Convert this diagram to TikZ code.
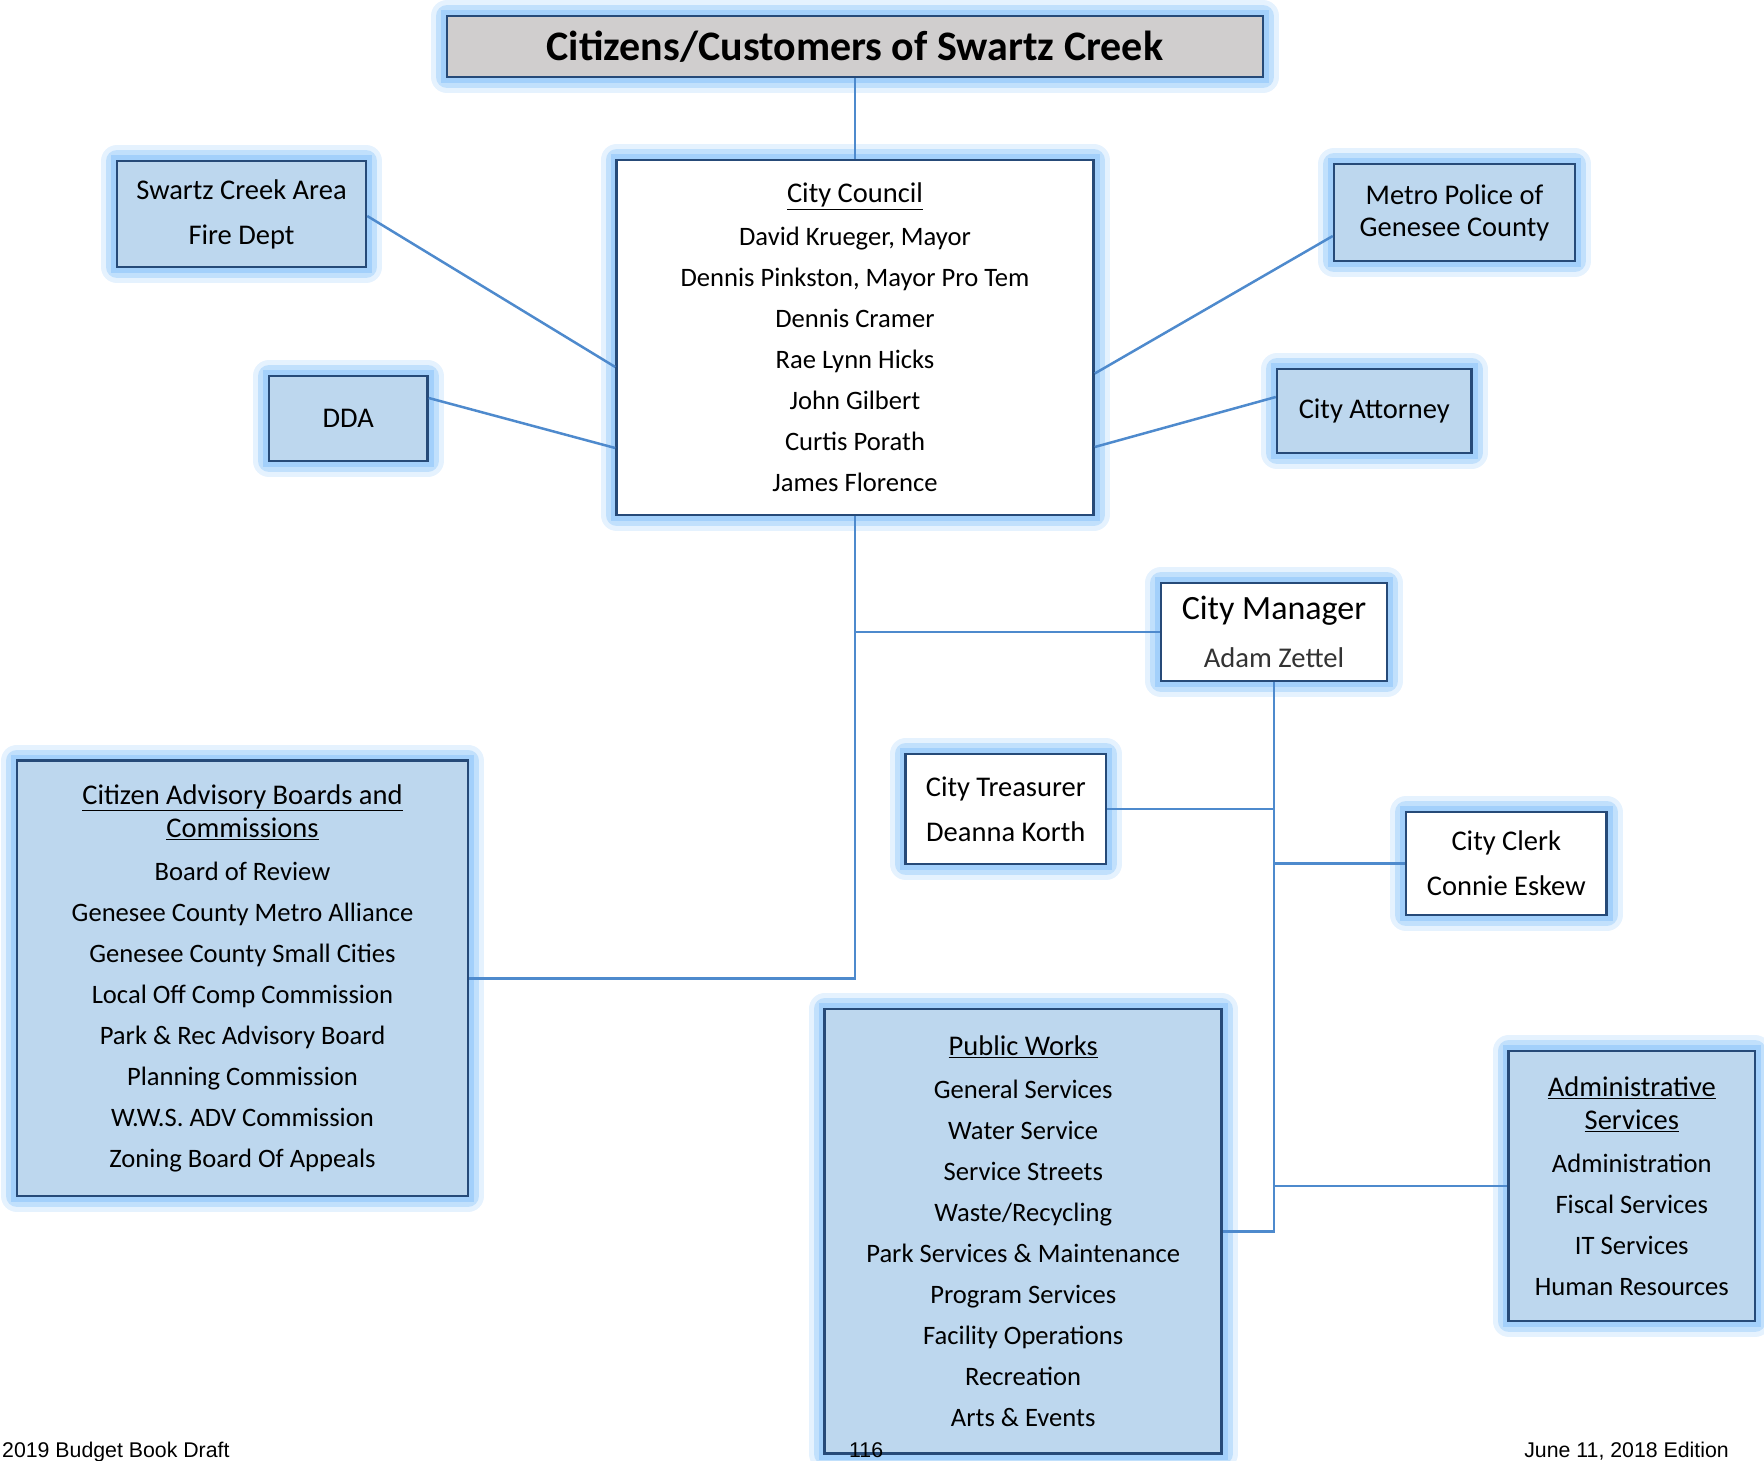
\documentclass[tikz,border=0pt]{standalone}
\usepackage{fontspec}
\setmainfont{Carlito}
\newfontfamily\footfont{Liberation Sans}

\definecolor{boxblue}{RGB}{189,215,238}
\definecolor{boxgray}{RGB}{208,206,206}
\definecolor{edgeblue}{RGB}{38,74,120}
\definecolor{linkblue}{RGB}{78,138,205}
\definecolor{glowblue}{RGB}{150,202,250}

\newcommand{\boxtitle}[1]{{\fontsize{28.5}{41}\selectfont\underline{#1}}}

\tikzstyle{glow} = [preaction={draw=glowblue, draw opacity=0.25, line width=32pt, line join=round, fill=none}, preaction={draw=glowblue, draw opacity=0.45, line width=22pt, line join=round, fill=none}, preaction={draw=glowblue, draw opacity=0.7, line width=12pt, fill=none}]
\tikzstyle{bluebox} = [rectangle, glow, draw=edgeblue, line width=2.5pt, fill=boxblue, inner sep=0pt, align=center, text=black]
\tikzstyle{whitebox} = [bluebox, fill=white]
\tikzstyle{body} = [font=\fontsize{26.6}{41}\selectfont]
\tikzstyle{small} = [font=\fontsize{28.5}{45}\selectfont]
\tikzstyle{link} = [draw=linkblue, line width=2.5pt]
\tikzstyle{footer} = [inner sep=0pt, font=\footfont\fontsize{21.3}{25}\selectfont]

\begin{document}
\begin{tikzpicture}[x=1pt, y=-1pt]
	\useasboundingbox (0,0) rectangle (1764,1461);
	\node (citizens) [whitebox, fill=boxgray, minimum width=816pt, minimum height=61pt, font=\fontsize{42}{50}\selectfont\bfseries] at (855,46.5) {Citizens/Customers of Swartz Creek};
	\node (council) [whitebox, minimum width=477pt, minimum height=355pt, body] at (855,337.5) {\boxtitle{City Council}\\[2pt] David Krueger, Mayor\\ Dennis Pinkston, Mayor Pro Tem\\ Dennis Cramer\\ Rae Lynn Hicks\\ John Gilbert\\ Curtis Porath\\ James Florence};
	\node (fire) [bluebox, minimum width=249pt, minimum height=106pt, small] at (241.5,214) {Swartz Creek Area\\ Fire Dept};
	\node (dda) [bluebox, minimum width=158.5pt, minimum height=85pt, small] at (348.25,418.5) {DDA};
	\node (metro) [bluebox, minimum width=241pt, minimum height=97pt, font=\fontsize{28.5}{32}\selectfont] at (1454.5,212.5) {Metro Police of\\ Genesee County};
	\node (attorney) [bluebox, minimum width=194.5pt, minimum height=84pt, small] at (1374.25,411) {City Attorney};
	\node (manager) [whitebox, minimum width=226pt, minimum height=98pt, font=\fontsize{34}{47.4}\selectfont] at (1274,632) {City Manager\\ {\fontsize{28.6}{47.4}\selectfont\color{black!80}Adam Zettel}};
	\node (treasurer) [whitebox, minimum width=200.4pt, minimum height=110pt, small] at (1005.8,809) {City Treasurer\\ Deanna Korth};
	\node (clerk) [whitebox, minimum width=200.5pt, minimum height=103pt, small] at (1506.25,863.5) {City Clerk\\ Connie Eskew};
	\node (advisory) [bluebox, minimum width=451pt, minimum height=435.5pt, body] at (242.5,978.25) {\boxtitle{Citizen Advisory Boards and}\\[-8pt] \boxtitle{Commissions}\\[2pt] Board of Review\\ Genesee County Metro Alliance\\ Genesee County Small Cities\\ Local Off Comp Commission\\ Park \& Rec Advisory Board\\ Planning Commission\\ W.W.S. ADV Commission\\ Zoning Board Of Appeals};
	\node (works) [bluebox, minimum width=397pt, minimum height=444.5pt, body] at (1023.2,1231.25) {\boxtitle{Public Works}\\[2pt] General Services\\ Water Service\\ Service Streets\\ Waste/Recycling\\ Park Services \& Maintenance\\ Program Services\\ Facility Operations\\ Recreation\\ Arts \& Events};
	\node (admin) [bluebox, minimum width=246.4pt, minimum height=270pt, body] at (1631.8,1186) {\boxtitle{Administrative}\\[-8pt] \boxtitle{Services}\\[2pt] Administration\\ Fiscal Services\\ IT Services\\ Human Resources};
	% connectors
	\draw [link] (citizens) -- (council);
	\draw [link] ([yshift=-2pt]fire.east) -- ([yshift=-29.5pt]council.west);
	\draw [link] ([yshift=20.5pt]dda.east) -- ([yshift=-110.5pt]council.west);
	\draw [link] ([yshift=-23.5pt]metro.west) -- ([yshift=-36pt]council.east);
	\draw [link] ([yshift=14pt]attorney.west) -- ([yshift=-109.5pt]council.east);
	\draw [link] (council.south) -- (council.south |- advisory.east) -- (advisory.east);
	\draw [link] (council.south |- manager.west) -- (manager.west);
	\draw [link] (manager.south) -- (manager.south |- works.east) -- (works.east);
	\draw [link] (treasurer.east) -- (treasurer.east -| manager.south);
	\draw [link] (manager.south |- clerk.west) -- (clerk.west);
	\draw [link] (manager.south |- admin.west) -- (admin.west);
	% page footer
	\node (draft) [footer, anchor=base west] at (2,1457) {2019 Budget Book Draft};
	\node (page) [footer, anchor=base west] at (849,1457) {116};
	\node (edition) [footer, anchor=base east] at (1729,1457) {June 11, 2018 Edition};
\end{tikzpicture}
\end{document}
